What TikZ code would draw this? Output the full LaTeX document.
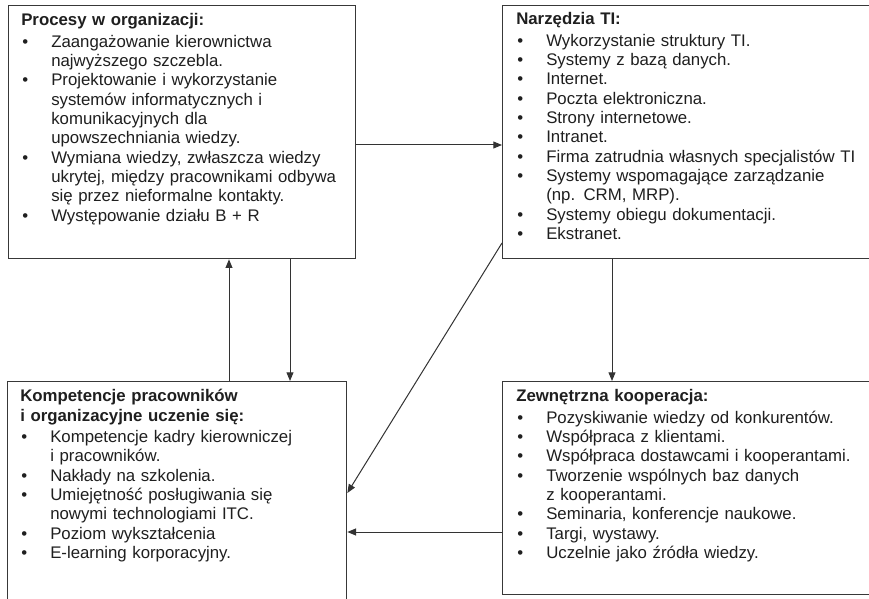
\documentclass[tikz,border=0pt]{standalone}
\usepackage{fontspec}
\setmainfont{Liberation Sans}
\usetikzlibrary{arrows.meta}
\newlength\bw \setlength\bw{22.5pt}
\newcommand\bi{\makebox[\bw][l]{\hspace{0.75pt}\textbullet}}
\newcommand\bc{\hspace*{\bw}}
\begin{document}
\begin{tikzpicture}[x=0.75pt,y=-0.75pt,
  box/.style={draw=black!78, line width=1pt, anchor=north west, inner sep=0pt},
  txt/.style={anchor=base west, inner sep=0pt, align=left, text width=300pt,
    font=\fontsize{12.6}{14.5}\selectfont, text=black!88},
  arr/.style={draw=black!80, line width=0.75pt, -{Triangle[length=6.5pt,width=5.2pt]}}]
\useasboundingbox (0,0) rectangle (869,599);
\fill[white] (0,0) rectangle (869,599);
\clip (0,0) rectangle (869,599);

% boxes
\node[box, minimum width=260.25pt, minimum height=189.75pt] (proc) at (8,5) {};
\node[box, minimum width=279.75pt, minimum height=189.75pt] (narz) at (502,5) {};
\node[box, minimum width=254.25pt, minimum height=171.75pt] (komp) at (7,381) {};
\node[box, minimum width=279.75pt, minimum height=159.75pt] (zewn) at (502,381) {};

% texts
\node[txt] (proct) at (21,26) {\textbf{Procesy w organizacji:}\\[1.3pt]
\bi Zaangażowanie kierownictwa\\
\bc najwyższego szczebla.\\
\bi Projektowanie i wykorzystanie\\
\bc systemów informatycznych i\\
\bc komunikacyjnych dla\\
\bc upowszechniania wiedzy.\\
\bi Wymiana wiedzy, zwłaszcza wiedzy\\
\bc ukrytej, między pracownikami odbywa\\
\bc się przez nieformalne kontakty.\\
\bi Występowanie działu B + R};

\node[txt] (narzt) at (516,25) {\textbf{Narzędzia TI:}\\[1.3pt]
\bi Wykorzystanie struktury TI.\\
\bi Systemy z bazą danych.\\
\bi Internet.\\
\bi Poczta elektroniczna.\\
\bi Strony internetowe.\\
\bi Intranet.\\
\bi Firma zatrudnia własnych specjalistów TI\\
\bi Systemy wspomagające zarządzanie\\
\bc (np. CRM, MRP).\\
\bi Systemy obiegu dokumentacji.\\
\bi Ekstranet.};

\node[txt] (kompt) at (20,402) {\textbf{Kompetencje pracowników}\\
\textbf{i organizacyjne uczenie się:}\\[1.3pt]
\bi Kompetencje kadry kierowniczej\\
\bc i pracowników.\\
\bi Nakłady na szkolenia.\\
\bi Umiejętność posługiwania się\\
\bc nowymi technologiami ITC.\\
\bi Poziom wykształcenia\\
\bi E-learning korporacyjny.};

\node[txt] (zewnt) at (516,402) {\textbf{Zewnętrzna kooperacja:}\\[1.3pt]
\bi Pozyskiwanie wiedzy od konkurentów.\\
\bi Współpraca z klientami.\\
\bi Współpraca dostawcami i kooperantami.\\
\bi Tworzenie wspólnych baz danych\\
\bc z kooperantami.\\
\bi Seminaria, konferencje naukowe.\\
\bi Targi, wystawy.\\
\bi Uczelnie jako źródła wiedzy.};

% connectors
\draw[arr] (proc.east |- 0,145) -- (narz.west |- 0,145);
\draw[arr] (komp.north -| 229,0) -- (proc.south -| 229,0);
\draw[arr] (proc.south -| 290,0) -- (komp.north -| 290,0);
\draw[arr] (narz.west |- 0,243) -- (komp.east |- 0,493);
\draw[arr] (narz.south -| 612,0) -- (zewn.north -| 612,0);
\draw[arr] (zewn.west |- 0,532) -- (komp.east |- 0,532);
\end{tikzpicture}
\end{document}
